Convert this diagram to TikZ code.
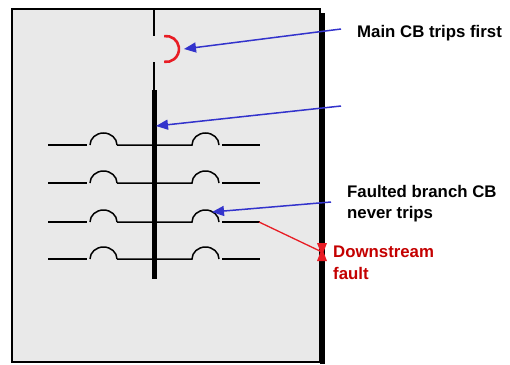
\documentclass[tikz,border=0pt]{standalone}
\usepackage{fontspec}
\setmainfont{Liberation Sans}
\usetikzlibrary{arrows.meta}
\definecolor{panelgray}{RGB}{233,233,233}
\definecolor{arrowblue}{RGB}{51,51,204}
\definecolor{brightred}{RGB}{232,28,36}
\definecolor{darkred}{RGB}{196,0,0}
\tikzset{
  wire/.style={line width=1.5pt, black},
  busbar/.style={line width=5pt, black},
  pointer/.style={arrowblue, line width=1.5pt, -{Triangle[length=12pt,width=10pt]}},
  label/.style={anchor=base west, inner sep=0pt, font=\fontsize{16.8}{21}\selectfont\bfseries},
  redlabel/.style={label, text=darkred},
}
\begin{document}
\begin{tikzpicture}[x=1pt,y=-1pt]
\useasboundingbox (0,0) rectangle (510,364);
% panel with shadow
\fill[black] (320,13) rectangle (325,364);
\draw[fill=panelgray, line width=1.8pt] (12,9) rectangle (320,362);
% main feeder and main CB (tripped open)
\draw[wire] (154,10) -- (154,36);
\draw[wire] (154,62) -- (154,90);
\draw[brightred, line width=2.6pt] (164.2,36.1) arc[start angle=98, end angle=-98, radius=13pt];
\coordinate (mainarc) at (184,49);
% bus
\coordinate (bustop) at (154,90);
\coordinate (busbot) at (154,279);
\draw[busbar] (bustop) -- (busbot);
\coordinate (busmid) at (156,126);
% branch rows
\foreach \y in {145,183,222,259}{
  \draw[wire] (48,\y) -- (87,\y);
  \draw[wire] (90,\y) arc[start angle=180, end angle=0, x radius=13.5pt, y radius=12pt];
  \draw[wire] (117,\y) -- (192,\y)
     arc[start angle=180, end angle=0, x radius=13.5pt, y radius=12pt];
  \draw[wire] (222,\y) -- (260,\y);
}
\coordinate (faultcb) at (212,212);
\coordinate (faultend) at (259,222);
% texts
\node[label] (tmain) at (357,37) {Main CB trips first};
\node[label] (tfault1) at (347,197) {Faulted branch CB};
\node[label] (tfault2) at (347,218) {never trips};
\node[redlabel] (tdown1) at (333,257) {Downstream};
\node[redlabel] (tdown2) at (333,279) {fault};
% arrow tails
\coordinate (a1) at (341,29);
\coordinate (a2) at (341,106);
\coordinate (a3) at (331,202);
\draw[pointer] (a1) -- (mainarc);
\draw[pointer] (a2) -- (busmid);
\draw[pointer] (a3) -- (faultcb);
% fault
\coordinate (faultx) at (322,252);
\draw[brightred, line width=1.3pt] (faultend) -- (faultx);
\fill[brightred] (317,243) -- (327,243) -- (323.5,252) -- (327,261) -- (317,261) -- (320.5,252) -- cycle;
\end{tikzpicture}
\end{document}
